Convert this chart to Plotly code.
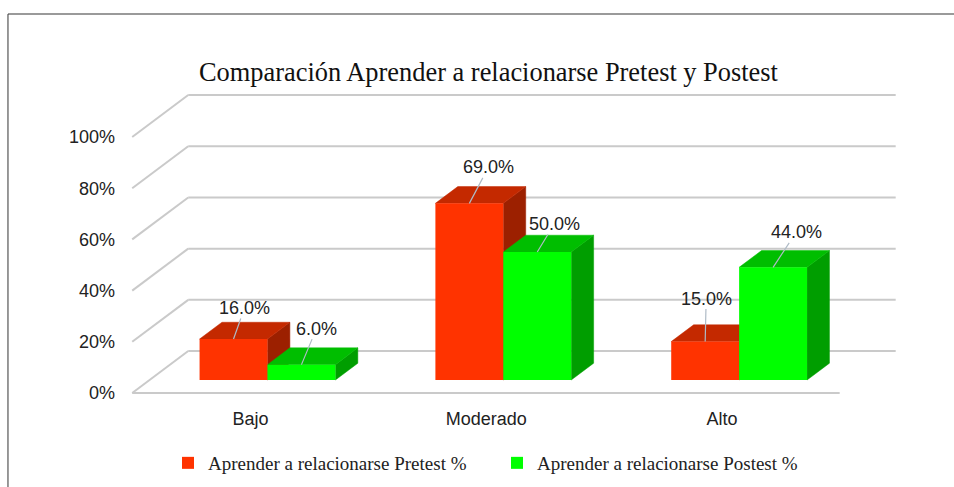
import plotly.graph_objects as go

# ---------------- data ----------------
categories = ["Bajo", "Moderado", "Alto"]
pretest = [16.0, 69.0, 15.0]
postest = [6.0, 50.0, 44.0]
series_names = ["Aprender a relacionarse Pretest %", "Aprender a relacionarse Postest %"]
y_ticks = [0, 20, 40, 60, 80, 100]
y_tick_labels = [f"{v}%" for v in y_ticks]
title_text = "Comparación Aprender a relacionarse Pretest y Postest"

# ---------------- style ----------------
FRONT = ["#FF3300", "#00FF00"]
TOP = ["#C42900", "#00BE00"]
SIDE = ["#9C2000", "#009E00"]
GRID = "#CACACA"
LEADER = "#AFBBC6"
SANS = "Liberation Sans, Arial, sans-serif"
SERIF = "Liberation Serif, Times New Roman, serif"

BARGAP = 0.424
BW = (1 - BARGAP) / 2          # width of one bar in x units
BOX_DX, BOX_DY = 0.2375, 16.4  # full box depth in data units (x units, % units)
TF, TB = 0.31, 0.71            # depth of bar front / back faces (0 = front, 1 = back wall)
X0, X1 = -0.5, len(categories) - 0.5

# label offsets (px) of value labels relative to the bar top
label_off = [[(11, -31), (19, -36), (1, -43)],
             [(15, -36), (17, -28), (23, -35)]]


def P(xf, v, t):
    return xf + (t - TF) * BOX_DX, v + (t - TF) * BOX_DY


def path(points):
    return "M " + " L ".join(f"{x:.5f},{y:.5f}" for x, y in points) + " Z"


series = [pretest, postest]
xs = list(range(len(categories)))

fig = go.Figure()
for k, vals in enumerate(series):
    fig.add_trace(go.Bar(
        x=xs, y=vals, name=series_names[k],
        marker=dict(color=FRONT[k], line=dict(width=0)),
        hoverinfo="y+name",
    ))

shapes = []
# back wall gridlines and side wall obliques
for v in y_ticks:
    a, b = P(X0, v, 1), P(X1, v, 1)
    shapes.append(dict(type="line", xref="x", yref="y", x0=a[0], y0=a[1], x1=b[0], y1=b[1],
                       line=dict(color=GRID, width=2), layer="below"))
    c = P(X0, v, 0)
    shapes.append(dict(type="line", xref="x", yref="y", x0=c[0], y0=c[1], x1=a[0], y1=a[1],
                       line=dict(color=GRID, width=2), layer="below"))
# floor front edge
a, b = P(X0, 0, 0), P(X1, 0, 0)
shapes.append(dict(type="line", xref="x", yref="y", x0=a[0], y0=a[1], x1=b[0], y1=b[1],
                   line=dict(color=GRID, width=2), layer="below"))

# 3D top / side faces
for k, vals in enumerate(series):
    for i, v in enumerate(vals):
        xc = i + (k - 0.5) * BW
        left, right = xc - BW / 2, xc + BW / 2
        top = [P(left, v, TF), P(right, v, TF), P(right, v, TB), P(left, v, TB)]
        side = [P(right, 0, TF), P(right, 0, TB), P(right, v, TB), P(right, v, TF)]
        shapes.append(dict(type="path", xref="x", yref="y", path=path(side),
                           fillcolor=SIDE[k], line=dict(width=0.5, color=SIDE[k]), layer="below"))
        shapes.append(dict(type="path", xref="x", yref="y", path=path(top),
                           fillcolor=TOP[k], line=dict(width=0.5, color=TOP[k]), layer="below"))

# outer frame
shapes.append(dict(type="line", xref="paper", yref="paper", x0=-0.1494, x1=1.2, y0=1.206, y1=1.206,
                   line=dict(color="#9A9A9A", width=2)))
shapes.append(dict(type="line", xref="paper", yref="paper", x0=-0.1494, x1=-0.1494, y0=1.206, y1=-0.4,
                   line=dict(color="#333333", width=1)))

annotations = []
for k, vals in enumerate(series):
    for i, v in enumerate(vals):
        xc = i + (k - 0.5) * BW
        dx, dy = label_off[k][i]
        annotations.append(dict(
            x=xc, y=v, xref="x", yref="y", text=f"{v:.1f}%",
            showarrow=True, arrowhead=0, arrowwidth=1.2, arrowcolor=LEADER,
            ax=dx, ay=dy, standoff=0, borderpad=0,
            font=dict(family=SANS, size=18, color="#222222"),
        ))

L, R, T, B = 126, 38, 80, 87
YR = [-7.8125, 117.1875]
fig.update_layout(
    width=954, height=487,
    margin=dict(l=L, r=R, t=T, b=B),
    paper_bgcolor="white", plot_bgcolor="white",
    barmode="group", bargap=BARGAP, bargroupgap=0,
    title=dict(text=title_text, x=0.512, xref="container", y=1 - 72 / 487, yref="container",
               xanchor="center", yanchor="middle",
               font=dict(family=SERIF, size=26.4, color="#111111")),
    xaxis=dict(range=[-0.6, 2.75], tickvals=xs, ticktext=categories, showgrid=False,
               zeroline=False, showline=False, ticks="", ticklabelshift=-17, ticklabelstandoff=6,
               tickfont=dict(family=SANS, size=18, color="#222222"), fixedrange=True),
    yaxis=dict(range=YR, visible=False, showgrid=False, zeroline=False, fixedrange=True),
    yaxis2=dict(range=[YR[0] + TF * BOX_DY, YR[1] + TF * BOX_DY], overlaying="y", side="left",
                anchor="x", tickmode="array", tickvals=y_ticks, ticktext=y_tick_labels,
                showgrid=False, zeroline=False, showline=False, ticks="", ticklabelstandoff=10,
                tickfont=dict(family=SANS, size=18, color="#222222"), fixedrange=True),
    legend=dict(orientation="h", xref="container", yref="container", x=168 / 954, y=1 - 463 / 487,
                xanchor="left", yanchor="middle", itemwidth=30, entrywidth=284,
                entrywidthmode="pixels",
                font=dict(family=SERIF, size=19, color="#222222")),
    shapes=shapes, annotations=annotations, showlegend=True,
)
# invisible trace so that yaxis2 is drawn
fig.add_trace(go.Scatter(x=[None], y=[None], yaxis="y2", showlegend=False, hoverinfo="skip"))

fig.write_html("out.html", config={"displayModeBar": False},
               post_script="document.body.style.margin='0px';")
